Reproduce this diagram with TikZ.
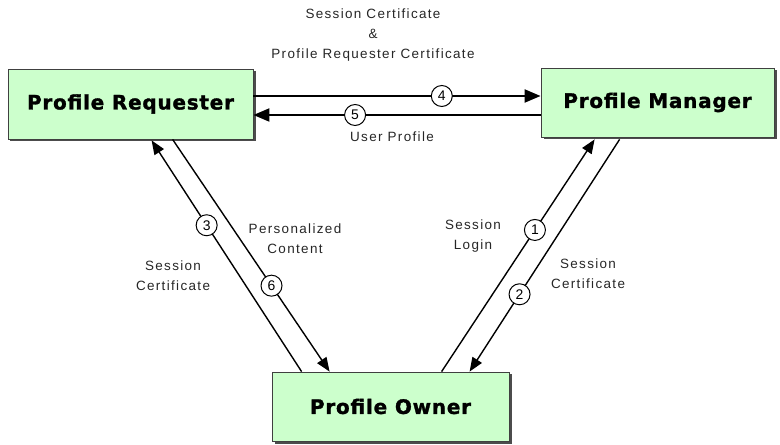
\documentclass[tikz,border=0pt]{standalone}
\usepackage{fontspec}
\setmainfont{Liberation Sans}
\newfontfamily\boxfont[LetterSpace=4,FakeBold=1.5]{DejaVu Sans}
\newfontfamily\lblfont[LetterSpace=10]{Liberation Sans}
\usetikzlibrary{arrows.meta,shadows,calc}
\definecolor{boxgreen}{HTML}{CCFFCC}
\definecolor{boxline}{HTML}{404040}
\tikzset{
  x=1bp, y=-1bp,
  party/.style={draw=boxline, line width=0.8bp, fill=boxgreen, minimum height=70bp,
    font=\boxfont\bfseries\fontsize{20}{24}\selectfont,
    drop shadow={shadow xshift=2.5bp, shadow yshift=-2.5bp, fill=black!70, opacity=1}},
  hflow/.style={line width=2bp, -{Triangle[length=16bp,width=13bp]}},
  dflow/.style={line width=1.4bp, -{Triangle[length=14bp,width=11bp]}},
  num/.style={circle, draw, fill=white, line width=1bp, inner sep=0pt, minimum size=21bp,
    font=\fontsize{14}{14}\selectfont},
  lbl/.style={font=\lblfont\fontsize{13.5}{20}\selectfont, text=black!85, align=center}
}
\begin{document}
\begin{tikzpicture}
\useasboundingbox (0,0) rectangle (780,445);
\node[party, minimum width=245bp] (req) at (130.5,104) {Profile Requester};
\node[party, minimum width=233bp, minimum height=69bp] (man) at (657.5,102.5) {Profile Manager};
\node[party, minimum width=237bp, minimum height=69bp] (own) at (390.5,406.5) {Profile Owner};

% horizontal arrows
\coordinate (a4s) at ($(req.east)+(0,-8)$);
\coordinate (a5e) at ($(req.east)+(0,11)$);
\draw[hflow] (a4s) -- (a4s -| man.west) node[num, pos=0.656] (n4) {4};
\draw[hflow] (a5e -| man.west) -- (a5e) node[num, pos=0.646] (n5) {5};

% left diagonal arrows
\coordinate (a3s) at ($(own.north west)+(30,0)$);
\coordinate (a6e) at ($(own.north west)+(58,0)$);
\coordinate (a3e) at ($(req.south west)+(144,1)$);
\coordinate (a6s) at ($(req.south west)+(165,0)$);
\draw[dflow] (a3s) -- (a3e) node[num, pos=0.633] (n3) {3};
\draw[dflow] (a6s) -- (a6e) node[num, pos=0.63] (n6) {6};

% right diagonal arrows
\coordinate (a1s) at ($(own.north west)+(170,0)$);
\coordinate (a2e) at ($(own.north west)+(198,0)$);
\coordinate (a1e) at ($(man.south west)+(54,2)$);
\coordinate (a2s) at ($(man.south west)+(79,2)$);
\draw[dflow] (a1s) -- (a1e) node[num, pos=0.61] (n1) {1};
\draw[dflow] (a2s) -- (a2e) node[num, pos=0.667] (n2) {2};

% labels
\node[lbl] (t4) at (373,35) {Session Certificate\\\&\\Profile Requester Certificate};
\node[lbl] (t5) at (392,137) {User Profile};
\node[lbl] (t3) at (173,276) {Session\\Certificate};
\node[lbl] (t6) at (295,239) {Personalized\\Content};
\node[lbl] (t1) at (473,236) {Session\\Login};
\node[lbl] (t2) at (588,274) {Session\\Certificate};
\end{tikzpicture}
\end{document}
